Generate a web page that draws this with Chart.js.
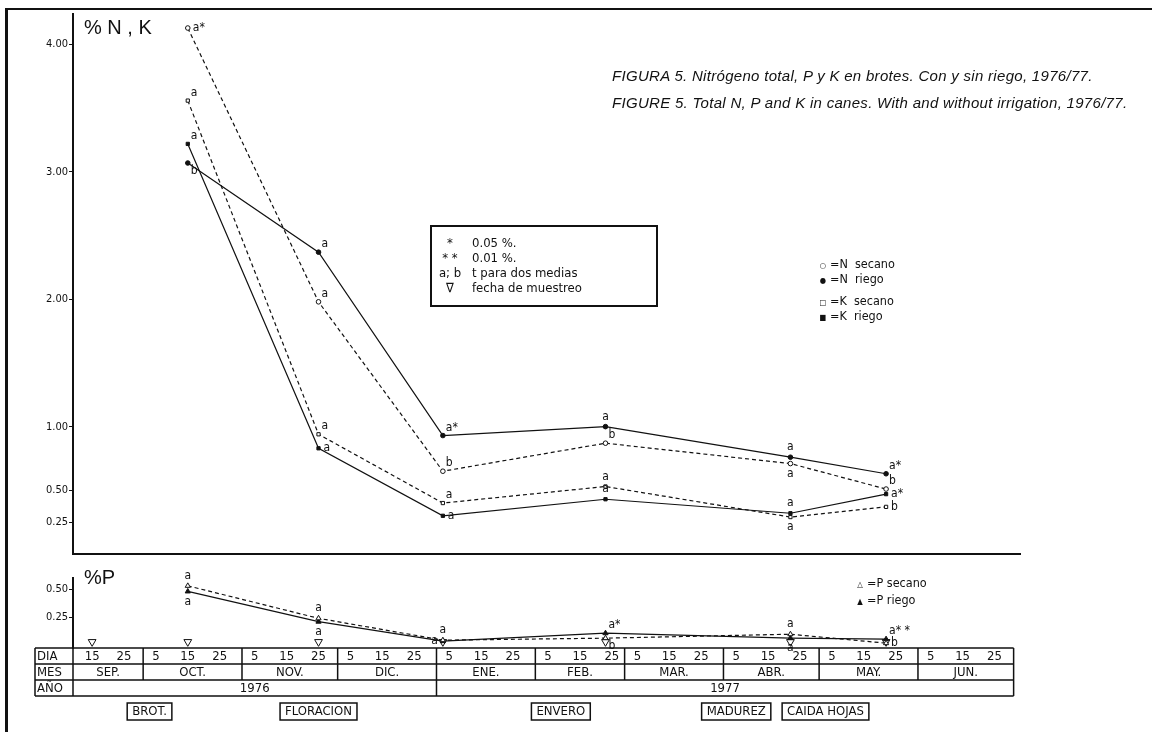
<!DOCTYPE html>
<html>
<head>
<meta charset="utf-8">
<title>Figura 5</title>
<script src="https://cdn.jsdelivr.net/npm/chart.js@4.4.1/dist/chart.umd.min.js"></script>
<style>
    body { margin: 0; background: #fff; }
    #page {
        position: relative; width: 1152px; height: 732px; overflow: hidden; color: #111;
        font-family: 'Liberation Sans Narrow', 'DejaVu Sans Condensed', sans-serif;
    }
    #frame { position: absolute; left: 5px; top: 8px; width: 1147px; height: 724px; border-left: 3px solid #111; border-top: 2px solid #111; }
    canvas { position: absolute; left: 0; }
    #topChart { top: 0; }
    #pChart { top: 562px; }
    .axis-title { position: absolute; font: 20px 'Liberation Sans', sans-serif; }
    .title { position: absolute; left: 612px; top: 62px; font: italic 15px 'Liberation Sans', sans-serif; line-height: 27px; letter-spacing: 0.3px; white-space: nowrap; }
    .keybox { position: absolute; left: 430px; top: 225px; width: 224px; height: 78px; border: 2px solid #111; font-size: 13px; }
    .keybox div, .key div { position: relative; height: 15px; line-height: 15px; white-space: nowrap; }
    .keybox .sym { position: absolute; left: 0; width: 36px; text-align: center; }
    .keybox .txt { position: absolute; left: 40px; }
    .key { position: absolute; font-size: 12.5px; }
    .key .sym { display: inline-block; width: 14px; text-align: center; font-size: 8px; }
</style>
</head>
<body>
<div id="page">
    <div id="frame"></div>
    <canvas id="topChart" width="1152" height="562"></canvas>
    <canvas id="pChart" width="1152" height="170"></canvas>

    <div class="axis-title" style="left:84px; top:16px;">% N , K</div>
    <div class="axis-title" style="left:84px; top:566px;">%P</div>

    <div class="title">
        FIGURA 5. Nitrógeno total, P y K en brotes. Con y sin riego, 1976/77.<br>
        FIGURE 5. Total N, P and K in canes. With and without irrigation, 1976/77.
    </div>

    <div class="keybox">
        <div style="margin-top:8px"><span class="sym">*</span><span class="txt">0.05 %.</span></div>
        <div><span class="sym">* *</span><span class="txt">0.01 %.</span></div>
        <div><span class="sym">a; b</span><span class="txt">t para dos medias</span></div>
        <div><span class="sym">∇</span><span class="txt">fecha de muestreo</span></div>
    </div>

    <div class="key" style="left:816px; top:256px;">
        <div><span class="sym">○</span>=N &nbsp;secano</div>
        <div><span class="sym">●</span>=N &nbsp;riego</div>
        <div style="margin-top:7px"><span class="sym">□</span>=K &nbsp;secano</div>
        <div><span class="sym">■</span>=K &nbsp;riego</div>
    </div>

    <div class="key" style="left:853px; top:575px;">
        <div><span class="sym">△</span>=P secano</div>
        <div style="margin-top:2px"><span class="sym">▲</span>=P riego</div>
    </div>
</div>

<script>
// sampling dates (fecha de muestreo) and the dates with analyses
const sampleDates = ['1976-09-15', '1976-10-15', '1976-11-25', '1977-01-03', '1977-02-23', '1977-04-22', '1977-05-22'];
const analysisDates = ['1976-10-15', '1976-11-25', '1977-01-03', '1977-02-23', '1977-04-22', '1977-05-22'];

// % dry matter
const nSecano = [4.13, 1.98, 0.65, 0.87, 0.71, 0.51];
const nRiego  = [3.07, 2.37, 0.93, 1.00, 0.76, 0.63];
const kSecano = [3.56, 0.94, 0.40, 0.53, 0.29, 0.37];
const kRiego  = [3.22, 0.83, 0.30, 0.43, 0.32, 0.47];
const pSecano = [0.53, 0.24, 0.045, 0.063, 0.098, 0.018];
const pRiego  = [0.48, 0.21, 0.036, 0.107, 0.063, 0.054];

// significance letters (t para dos medias)
const nSecanoSig = ['a*', 'a', 'b', 'b', 'a', 'b'];
const nRiegoSig  = ['b', 'a', 'a*', 'a', 'a', 'a*'];
const kSecanoSig = ['a', 'a', 'a', 'a', 'a', 'b'];
const kRiegoSig  = ['a', 'a', 'a', 'a', 'a', 'a*'];
const pSecanoSig = ['a', 'a', 'a', 'b', 'a', 'b'];
const pRiegoSig  = ['a', 'a', 'a', 'a*', 'a', 'a* *'];

// which side of the point each letter is written on
const nSecanoAt = ['e', 'ne', 'ne', 'ne', 's', 'ne'];
const nRiegoAt  = ['se', 'ne', 'ne', 'n', 'n', 'ne'];
const kSecanoAt = ['ne', 'ne', 'ne', 'n', 's', 'e'];
const kRiegoAt  = ['ne', 'e', 'e', 'n', 'n', 'e'];
const pSecanoAt = ['n', 'n', 'n', 'se', 'n', 'e'];
const pRiegoAt  = ['s', 's', 'w', 'ne', 's', 'ne'];

// tick labels
const nkTicks = [0.25, 0.50, 1.00, 2.00, 3.00, 4.00];
const pTicks = [0.25, 0.50];

// date table
const months = ['SEP.', 'OCT.', 'NOV.', 'DIC.', 'ENE.', 'FEB.', 'MAR.', 'ABR.', 'MAY.', 'JUN.'];
const monthStarts = ['1976-09-01', '1976-10-01', '1976-11-01', '1976-12-01', '1977-01-01', '1977-02-01', '1977-03-01', '1977-04-01', '1977-05-01', '1977-06-01'];
const tableEnd = '1977-07-01';
const dayMarks = [5, 15, 25];
const years = ['1976', '1977'];
const yearStarts = ['1976-09-01', '1977-01-01'];

// phenological stages
const phases = ['BROT.', 'FLORACION', 'ENVERO', 'MADUREZ', 'CAIDA HOJAS'];
const phaseDates = ['1976-10-03', '1976-11-25', '1977-02-09', '1977-04-05', '1977-05-03'];

const axisStart = '1976-09-09';
const axisEnd = '1977-07-03';

const INK = '#111';
const NARROW = '"Liberation Sans Narrow", "DejaVu Sans Condensed", sans-serif';

function dayOf(s) {
    const p = s.split('-').map(Number);
    return (Date.UTC(p[0], p[1] - 1, p[2]) - Date.UTC(1976, 8, 1)) / 86400000;
}

function series(label, values, sig, sigAt, dry, style) {
    return {
        label: label,
        data: analysisDates.map((d, i) => ({ x: dayOf(d), y: values[i] })),
        sig: sig,
        sigAt: sigAt,
        borderColor: INK,
        borderWidth: 1.2,
        borderDash: dry ? [4, 3] : [],
        pointStyle: style,
        pointRadius: style === 'triangle' ? 3 : 2.3,
        pointBorderWidth: 1,
        pointBorderColor: INK,
        pointBackgroundColor: dry ? '#fff' : INK,
        tension: 0
    };
}

const sigLetters = {
    id: 'sigLetters',
    afterDatasetsDraw(chart) {
        const ctx = chart.ctx;
        ctx.save();
        ctx.fillStyle = INK;
        ctx.font = '12px ' + NARROW;
        chart.data.datasets.forEach((ds, i) => {
            if (!ds.sig) return;
            chart.getDatasetMeta(i).data.forEach((pt, j) => {
                let dx = 3, dy = -2, align = 'left', base = 'bottom';
                switch (ds.sigAt[j]) {
                    case 'e': dx = 5; dy = 0; base = 'middle'; break;
                    case 'se': dx = 3; dy = 2; base = 'top'; break;
                    case 'n': dx = 0; dy = -4; align = 'center'; break;
                    case 's': dx = 0; dy = 4; align = 'center'; base = 'top'; break;
                    case 'w': dx = -5; dy = 0; align = 'right'; base = 'middle'; break;
                }
                ctx.textAlign = align;
                ctx.textBaseline = base;
                ctx.fillText(ds.sig[j], pt.x + dx, pt.y + dy);
            });
        });
        ctx.restore();
    }
};

const dateTable = {
    id: 'dateTable',
    afterDraw(chart) {
        const ctx = chart.ctx;
        const x = chart.scales.x;
        const left = chart.chartArea.left;
        const top = chart.chartArea.bottom;
        const row = 16;
        const x0 = left - 38;
        const xEnd = x.getPixelForValue(dayOf(tableEnd));
        const starts = monthStarts.map(s => Math.max(left, x.getPixelForValue(dayOf(s))));

        ctx.save();
        ctx.strokeStyle = INK;
        ctx.lineWidth = 1.5;
        ctx.beginPath();
        for (let r = 0; r <= 3; r++) {
            ctx.moveTo(x0, top + r * row);
            ctx.lineTo(xEnd, top + r * row);
        }
        [x0, left, xEnd].forEach(px => { ctx.moveTo(px, top); ctx.lineTo(px, top + 3 * row); });
        starts.slice(1).forEach(px => { ctx.moveTo(px, top); ctx.lineTo(px, top + 2 * row); });
        yearStarts.slice(1).forEach(s => {
            const px = x.getPixelForValue(dayOf(s));
            ctx.moveTo(px, top + 2 * row);
            ctx.lineTo(px, top + 3 * row);
        });
        ctx.stroke();

        ctx.fillStyle = INK;
        ctx.font = '13px ' + NARROW;
        ctx.textBaseline = 'middle';
        ctx.textAlign = 'left';
        ['DIA', 'MES', 'AÑO'].forEach((t, r) => ctx.fillText(t, x0 + 2, top + r * row + row / 2 + 1));

        ctx.textAlign = 'center';
        monthStarts.forEach((s, m) => {
            const d0 = dayOf(s);
            dayMarks.forEach(d => {
                const px = x.getPixelForValue(d0 + d - 1);
                if (px > left + 8) ctx.fillText(String(d), px, top + row / 2 + 1);
            });
            const next = m + 1 < starts.length ? starts[m + 1] : xEnd;
            ctx.fillText(months[m], (starts[m] + next) / 2, top + row * 1.5 + 1);
        });
        years.forEach((y, k) => {
            const a = Math.max(left, x.getPixelForValue(dayOf(yearStarts[k])));
            const b = k + 1 < yearStarts.length ? x.getPixelForValue(dayOf(yearStarts[k + 1])) : xEnd;
            ctx.fillText(y, (a + b) / 2, top + row * 2.5 + 1);
        });

        // stage boxes under the table
        const by = top + 3 * row + 7;
        phases.forEach((p, k) => {
            const px = x.getPixelForValue(dayOf(phaseDates[k]));
            const w = ctx.measureText(p).width + 10;
            ctx.strokeRect(px - w / 2, by, w, 17);
            ctx.fillText(p, px, by + 9);
        });
        ctx.restore();
    }
};

function yAxis(min, max, ticks) {
    return {
        min: min,
        max: max,
        afterBuildTicks: axis => { axis.ticks = ticks.map(v => ({ value: v })); },
        afterFit: axis => { axis.width = 40; },
        ticks: { color: INK, padding: 1, font: { size: 11, family: NARROW }, callback: v => v.toFixed(2) },
        grid: { drawOnChartArea: false, tickLength: 4, color: INK },
        border: { color: INK, width: 2 }
    };
}

function xAxis(showLine) {
    return {
        type: 'linear',
        min: dayOf(axisStart),
        max: dayOf(axisEnd),
        afterFit: axis => { axis.height = 0; },
        ticks: { display: false },
        grid: { drawOnChartArea: false, drawTicks: false },
        border: { display: showLine, color: INK, width: 2 }
    };
}

const baseOptions = (padding, x, y) => ({
    responsive: false,
    animation: false,
    layout: { padding: padding },
    plugins: { legend: { display: false }, tooltip: { enabled: false } },
    scales: { x: x, y: y }
});

new Chart(document.getElementById('topChart'), {
    type: 'line',
    data: {
        datasets: [
            series('N secano', nSecano, nSecanoSig, nSecanoAt, true, 'circle'),
            series('N riego', nRiego, nRiegoSig, nRiegoAt, false, 'circle'),
            series('K secano', kSecano, kSecanoSig, kSecanoAt, true, 'rect'),
            series('K riego', kRiego, kRiegoSig, kRiegoAt, false, 'rect')
        ]
    },
    options: baseOptions({ left: 33, right: 132, top: 14, bottom: 8 }, xAxis(true), yAxis(0, 4.24, nkTicks)),
    plugins: [sigLetters]
});

new Chart(document.getElementById('pChart'), {
    type: 'line',
    data: {
        datasets: [
            series('P secano', pSecano, pSecanoSig, pSecanoAt, true, 'triangle'),
            series('P riego', pRiego, pRiegoSig, pRiegoAt, false, 'triangle'),
            {
                label: 'fecha de muestreo',
                data: sampleDates.map(d => ({ x: dayOf(d), y: 0.03 })),
                showLine: false,
                pointStyle: 'triangle',
                rotation: 180,
                pointRadius: 4.5,
                pointBorderWidth: 1,
                pointBorderColor: INK,
                pointBackgroundColor: 'rgba(255,255,255,0)'
            }
        ]
    },
    options: baseOptions({ left: 33, right: 132, top: 16, bottom: 84 }, xAxis(false), yAxis(-0.025, 0.6, pTicks)),
    plugins: [sigLetters, dateTable]
});
</script>
</body>
</html>
